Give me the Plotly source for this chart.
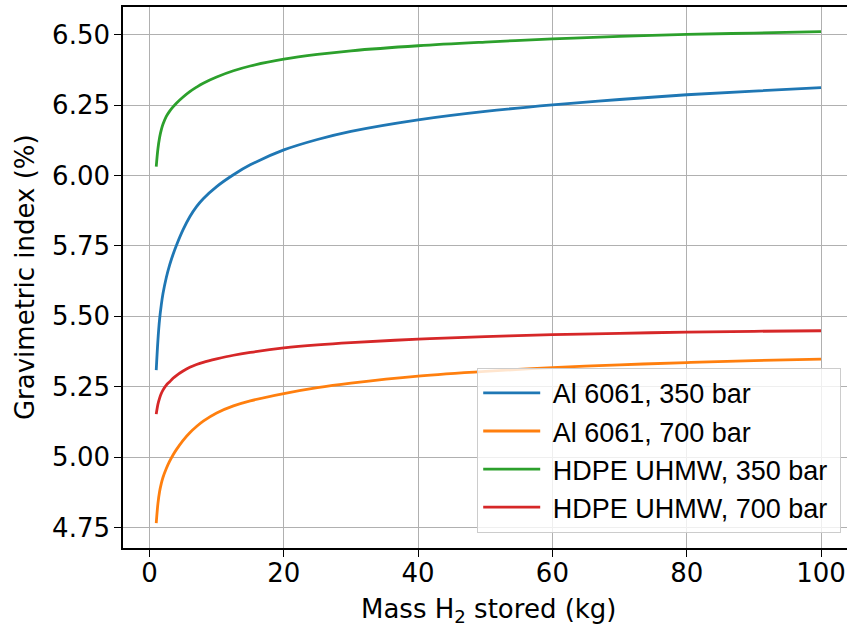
import plotly.graph_objects as go

# Stored hydrogen mass (kg)
mass_kg = [1, 1.25, 1.5, 1.75, 2, 2.5, 3, 3.5, 4, 5, 6, 7, 8, 10, 12.5, 15,
           20, 25, 30, 40, 50, 60, 70, 80, 90, 100]

# Gravimetric index (%) per tank material / pressure
al_350 = [5.309, 5.415, 5.49, 5.54, 5.58, 5.638, 5.683, 5.72, 5.752, 5.808,
          5.854, 5.89, 5.918, 5.961, 6.003, 6.038, 6.091, 6.128, 6.157,
          6.198, 6.228, 6.251, 6.270, 6.287, 6.300, 6.312]
al_700 = [4.766, 4.835, 4.878, 4.906, 4.928, 4.96, 4.986, 5.008, 5.027, 5.06,
          5.087, 5.109, 5.128, 5.157, 5.182, 5.20, 5.226, 5.247, 5.263,
          5.288, 5.305, 5.318, 5.328, 5.336, 5.343, 5.348]
hdpe_350 = [6.032, 6.095, 6.135, 6.162, 6.182, 6.21, 6.229, 6.244, 6.257,
            6.279, 6.298, 6.314, 6.328, 6.350, 6.372, 6.389, 6.413, 6.430,
            6.443, 6.461, 6.474, 6.485, 6.494, 6.501, 6.506, 6.511]
hdpe_700 = [5.153, 5.188, 5.21, 5.226, 5.238, 5.256, 5.268, 5.28, 5.29,
            5.306, 5.319, 5.329, 5.337, 5.349, 5.362, 5.372, 5.388, 5.399,
            5.407, 5.419, 5.428, 5.435, 5.440, 5.444, 5.447, 5.449]

series_names = ["Al 6061, 350 bar", "Al 6061, 700 bar",
                "HDPE UHMW, 350 bar", "HDPE UHMW, 700 bar"]
series_values = [al_350, al_700, hdpe_350, hdpe_700]
series_colors = ["#1f77b4", "#ff7f0e", "#2ca02c", "#d62728"]

x_ticks = [0, 20, 40, 60, 80, 100]
y_ticks = [4.75, 5.00, 5.25, 5.50, 5.75, 6.00, 6.25, 6.50]

NBSP = "\u00a0"  # pads legend labels away from the line samples

fig = go.Figure()
for name, vals, col in zip(series_names, series_values, series_colors):
    fig.add_trace(go.Scatter(
        x=mass_kg, y=vals, name=NBSP + name + NBSP, mode="lines",
        line=dict(color=col, width=2.8, shape="spline", smoothing=1.0),
    ))

tick_font = dict(family="DejaVu Sans", size=26, color="black")

fig.update_layout(
    width=847, height=626,
    margin=dict(l=123, r=0, t=7, b=78),
    paper_bgcolor="white", plot_bgcolor="white",
    showlegend=True,
    legend=dict(
        x=0.992, y=0.028, xanchor="right", yanchor="bottom",
        bgcolor="rgba(255,255,255,0.8)", bordercolor="#cccccc", borderwidth=1,
        font=dict(family="Liberation Sans, Arial", size=27, color="black"),
        itemwidth=57,
    ),
    xaxis=dict(
        range=[-3.95, 103.87], tickvals=x_ticks,
        showgrid=True, gridcolor="#b0b0b0", gridwidth=1.3,
        zeroline=False, showline=True, linecolor="black", linewidth=1.6,
        mirror=True, ticks="outside", ticklen=7, tickwidth=1.4,
        tickcolor="black", tickfont=tick_font, ticklabelstandoff=-6,
    ),
    yaxis=dict(
        range=[4.6776, 6.5985], tickvals=y_ticks, tickformat=".2f",
        showgrid=True, gridcolor="#b0b0b0", gridwidth=1.3,
        zeroline=False, showline=True, linecolor="black", linewidth=1.6,
        mirror=False, ticks="outside", ticklen=7, tickwidth=1.4,
        tickcolor="black", tickfont=tick_font, ticklabelstandoff=-1,
    ),
    annotations=[
        dict(text="Mass H<sub>2</sub> stored (kg)", xref="paper", yref="paper",
             x=0.505, y=-0.115, xanchor="center", yanchor="middle",
             showarrow=False, font=dict(family="DejaVu Sans", size=26, color="black")),
        dict(text="Gravimetric index (%)", xref="paper", yref="paper",
             x=-0.136, y=0.5, xanchor="center", yanchor="middle", textangle=-90,
             showarrow=False, font=dict(family="DejaVu Sans", size=26, color="black")),
    ],
)

fig.write_html("out.html")
